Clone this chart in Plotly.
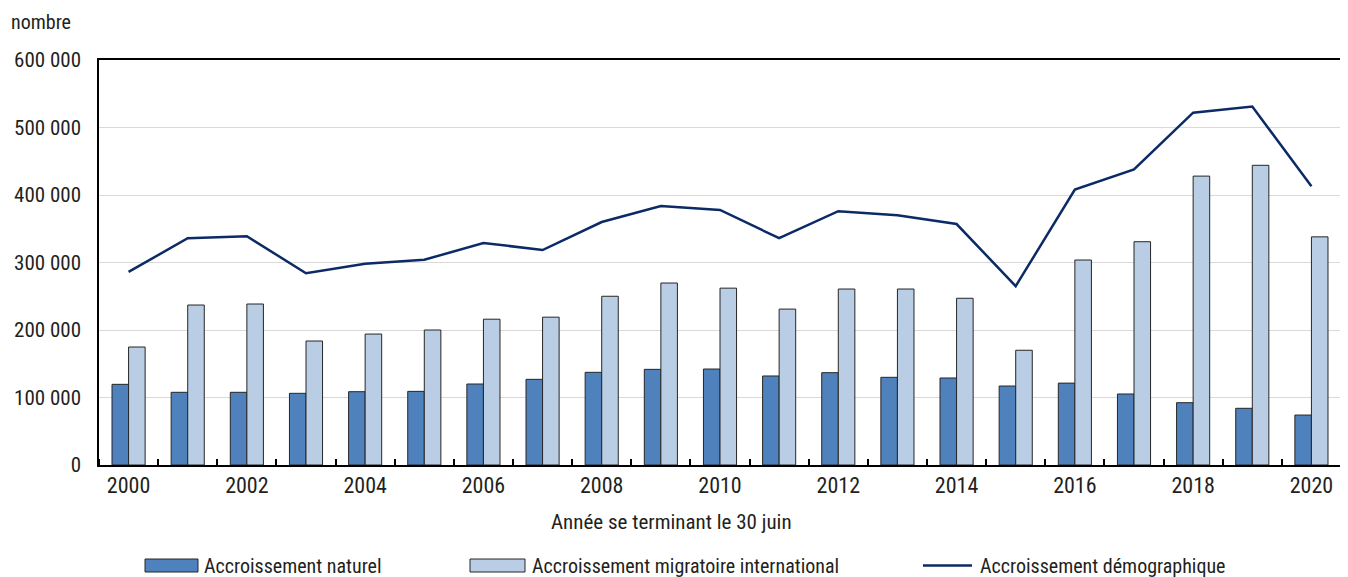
import plotly.graph_objects as go

years = list(range(2000, 2021))
naturel = [119500, 107700, 107700, 106200, 108600, 109100, 120000, 126900, 137300, 141700,
           142200, 131900, 136800, 129900, 128900, 117000, 121300, 105200, 92300, 84000, 74000]
migratoire = [174800, 237000, 238500, 183700, 194000, 200000, 216000, 219000, 250000, 269600,
              262000, 231000, 260700, 260700, 247000, 170000, 303700, 330800, 428000, 444000, 338000]
demographique = [286000, 336000, 339000, 284000, 298000, 304000, 329000, 318500, 360000, 383700,
                 377800, 336000, 376000, 370000, 357000, 265000, 408000, 438000, 522000, 531000, 413000]
x_labels = [str(y) for y in range(2000, 2021, 2)]
y_ticks = [0, 100000, 200000, 300000, 400000, 500000, 600000]
names = ["Accroissement naturel", "Accroissement migratoire international", "Accroissement démographique"]

FONT = "Roboto Condensed, Liberation Sans Narrow, Arial Narrow, sans-serif"
TXT = "#231f20"
C_DARK = "#4f81bd"
C_LIGHT = "#b9cde5"
C_LINE = "#0b2a66"
C_EDGE = "#262626"

fig = go.Figure()
fig.add_trace(go.Bar(x=years, y=naturel, name=names[0], marker=dict(color=C_DARK, line=dict(color=C_EDGE, width=1)), showlegend=False))
fig.add_trace(go.Bar(x=years, y=migratoire, name=names[1], marker=dict(color=C_LIGHT, line=dict(color=C_EDGE, width=1)), showlegend=False))
fig.add_trace(go.Scatter(x=years, y=demographique, name=names[2], mode="lines", line=dict(color=C_LINE, width=2.5), showlegend=False))

# page body has an 8px default margin: compensate so the plot lands where the reference has it
OFF = 8
W, H = 1348, 577
L, R, T, B = 99, 7, 60, 112
pw, ph = W - L - R, H - T - B

def px(xp):
    return (xp - L) / pw

def py(yp):
    return (H - B - yp) / ph

fig.update_layout(
    width=W - OFF, height=H - OFF,
    margin=dict(l=L - OFF, r=R, t=T - OFF, b=B, autoexpand=False),
    paper_bgcolor="white", plot_bgcolor="white",
    barmode="group", bargap=0.44, bargroupgap=0,
    separators=", ",
    font=dict(family=FONT, size=21, color=TXT),
    xaxis=dict(
        range=[1999.5, 2020.5], automargin=False,
        tickmode="array", tickvals=list(range(2000, 2021, 2)), ticktext=x_labels,
        ticks="", showgrid=False, zeroline=False,
        showline=True, linecolor="black", linewidth=2, mirror=True,
        tickfont=dict(size=22),
        minor=dict(tickmode="linear", tick0=1999.5, dtick=1, ticks="inside", ticklen=6, tickcolor="black", tickwidth=1.5, showgrid=False),
    ),
    yaxis=dict(
        range=[0, 600000], tickmode="array", tickvals=y_ticks, tickformat=",d", automargin=False,
        showgrid=True, gridcolor="#d9d9d9", gridwidth=1, zeroline=False,
        showline=True, linecolor="black", linewidth=1.5, mirror=True,
        ticks="", ticklabelstandoff=12,
        tickfont=dict(size=21),
    ),
)

fig.add_annotation(text="Année se terminant le 30 juin", xref="paper", yref="paper",
                   x=px(671), y=py(522), xanchor="center", yanchor="middle", showarrow=False,
                   font=dict(size=21))
fig.add_annotation(text="nombre", xref="paper", yref="paper", borderpad=0,
                   x=px(10), y=py(8.5), xanchor="left", yanchor="top", showarrow=False,
                   font=dict(size=20))

ly0, ly1, lyc = py(559), py(572), py(565.5)
legend_items = [
    (145, 198, 202, names[0], "rect", C_DARK),
    (470, 525, 530, names[1], "rect", C_LIGHT),
    (923, 972, 978, names[2], "line", C_LINE),
]
for x0, x1, xt, label, kind, col in legend_items:
    if kind == "rect":
        fig.add_shape(type="rect", xref="paper", yref="paper", x0=px(x0), x1=px(x1), y0=ly0, y1=ly1,
                      fillcolor=col, line=dict(color=C_EDGE, width=1))
    else:
        fig.add_shape(type="line", xref="paper", yref="paper", x0=px(x0), x1=px(x1), y0=lyc, y1=lyc,
                      line=dict(color=col, width=2.5))
    fig.add_annotation(text=label, xref="paper", yref="paper", x=px(xt), y=lyc,
                       xanchor="left", yanchor="middle", showarrow=False, font=dict(size=20))

fig.write_html("out.html")
